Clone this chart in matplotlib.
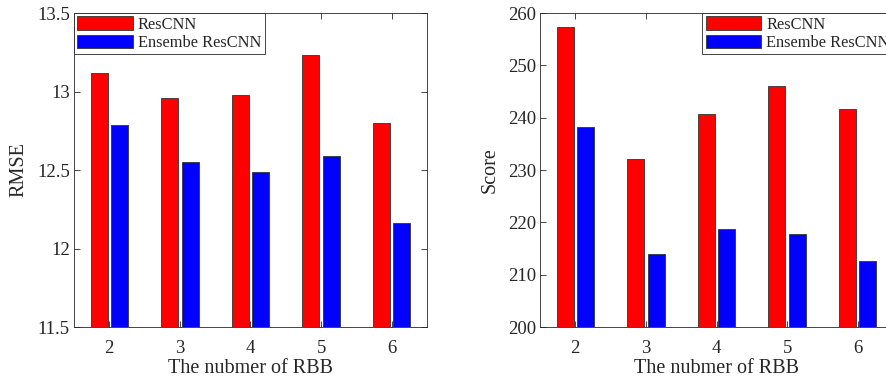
import numpy as np
import matplotlib
matplotlib.use('Agg')
import matplotlib.pyplot as plt

plt.rcParams['font.family'] = ['Liberation Serif', 'DejaVu Serif']

# data
rbb = [2, 3, 4, 5, 6]
rmse_rescnn = [13.12, 12.96, 12.975, 13.23, 12.80]
rmse_ensemble = [12.79, 12.553, 12.485, 12.59, 12.16]
score_rescnn = [257.4, 232.2, 240.7, 246.0, 241.6]
score_ensemble = [238.2, 213.9, 218.8, 217.7, 212.6]
labels = ['ResCNN', 'Ensembe ResCNN']

gray = '#262626'
fig = plt.figure(figsize=(8.87, 3.83), dpi=100)
ax1 = fig.add_axes([0.0834, 0.146, 0.398, 0.820])
ax2 = fig.add_axes([0.6088, 0.146, 0.398, 0.820])

def draw(ax, a, b, ylim, yticks, ylabel, legloc, anchor):
    x = np.array(rbb, dtype=float)
    w = 0.24
    ax.bar(x - 0.145, np.array(a) - ylim[0], w, bottom=ylim[0], color='#ff0000',
           edgecolor='#333333', linewidth=0.6, label=labels[0])
    ax.bar(x + 0.145, np.array(b) - ylim[0], w, bottom=ylim[0], color='#0000ff',
           edgecolor='#333333', linewidth=0.6, label=labels[1])
    ax.set_xlim(1.5, 6.5)
    ax.set_ylim(*ylim)
    ax.set_xticks(rbb)
    ax.set_yticks(yticks)
    ax.set_yticklabels([('%g' % t) for t in yticks])
    ax.tick_params(direction='in', top=True, right=True, length=4, width=0.6,
                   labelsize=13.5, colors=gray, labelcolor=gray)
    ax.tick_params(axis='x', pad=9)
    ax.tick_params(axis='y', pad=3)
    for s in ax.spines.values():
        s.set_linewidth(0.6)
        s.set_color(gray)
    ax.set_xlabel('The nubmer of RBB', fontsize=14.5, color=gray, labelpad=2)
    ax.set_ylabel(ylabel, fontsize=14.5, color=gray, labelpad=6)
    leg = ax.legend(loc=legloc, bbox_to_anchor=anchor, borderaxespad=0,
                    fontsize=11.8, handlelength=3.4, handleheight=0.9,
                    handletextpad=0.3, labelspacing=0.12, borderpad=0.2,
                    fancybox=False, framealpha=1, edgecolor=gray)
    leg.get_frame().set_linewidth(0.6)
    for t in leg.get_texts():
        t.set_color(gray)

draw(ax1, rmse_rescnn, rmse_ensemble, (11.5, 13.5), [11.5, 12, 12.5, 13, 13.5],
     'RMSE', 'upper left', (0, 1))
draw(ax2, score_rescnn, score_ensemble, (200, 260), [200, 210, 220, 230, 240, 250, 260],
     'Score', 'upper right', (1, 1))

plt.savefig('out.png', dpi=100)
